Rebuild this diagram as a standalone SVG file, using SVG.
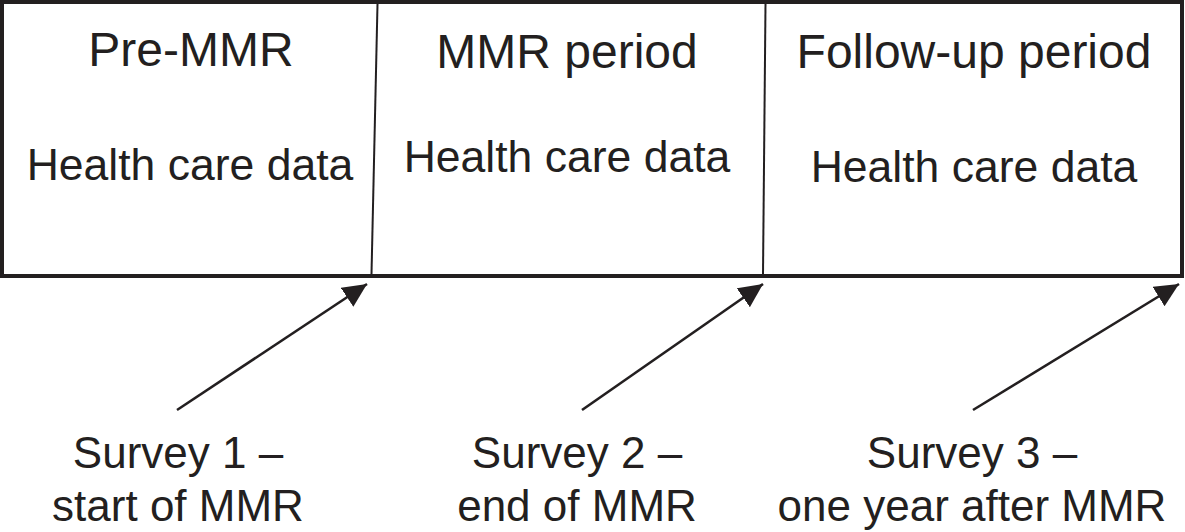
<svg xmlns="http://www.w3.org/2000/svg" width="1185" height="532" viewBox="0 0 1185 532">
  <style>
    .t { font-family: "Liberation Sans", Arial, sans-serif; fill: #231f20; text-anchor: middle; }
    .title { font-size: 48px; }
    .sub { font-size: 44.5px; }
    .lab { font-size: 44px; }
    .div { stroke: #231f20; stroke-width: 2; fill: none; }
    .arr { stroke: #231f20; stroke-width: 2.6; fill: none; marker-end: url(#ah); }
  </style>
  <defs>
    <marker id="ah" markerUnits="userSpaceOnUse" markerWidth="26" markerHeight="24" refX="24" refY="11.5" orient="auto" viewBox="0 0 26 24">
      <path d="M0,0 L24,11.5 L0,23 z" fill="#231f20"/>
    </marker>
  </defs>
  <rect x="0" y="0" width="1185" height="532" fill="#ffffff"/>
  <g id="frame">
    <rect x="2" y="2" width="1180" height="274" fill="#ffffff" stroke="#231f20" stroke-width="4"/>
    <line class="div" x1="377.5" y1="4" x2="371.5" y2="274"/>
    <line class="div" x1="765.5" y1="4" x2="763" y2="274"/>
  </g>
  <g id="pre-mmr">
    <text class="t title" x="191" y="66">Pre-MMR</text>
    <text class="t sub" x="190" y="180">Health care data</text>
  </g>
  <g id="mmr-period">
    <text class="t title" x="567" y="68">MMR period</text>
    <text class="t sub" x="567" y="172">Health care data</text>
  </g>
  <g id="follow-up">
    <text class="t title" x="974" y="68">Follow-up period</text>
    <text class="t sub" x="974" y="182">Health care data</text>
  </g>
  <g id="survey1">
    <text class="t lab" x="178" y="468">Survey 1 –</text>
    <text class="t lab" x="178" y="521">start of MMR</text>
  </g>
  <g id="survey2">
    <text class="t lab" x="577" y="468">Survey 2 –</text>
    <text class="t lab" x="577" y="521">end of MMR</text>
  </g>
  <g id="survey3">
    <text class="t lab" x="972" y="468">Survey 3 –</text>
    <text class="t lab" x="972" y="521">one year after MMR</text>
  </g>
  <g id="connectors">
    <line class="arr" x1="177" y1="410" x2="367" y2="284"/>
    <line class="arr" x1="582" y1="410" x2="763" y2="284"/>
    <line class="arr" x1="973" y1="410" x2="1179" y2="284"/>
  </g>
</svg>
